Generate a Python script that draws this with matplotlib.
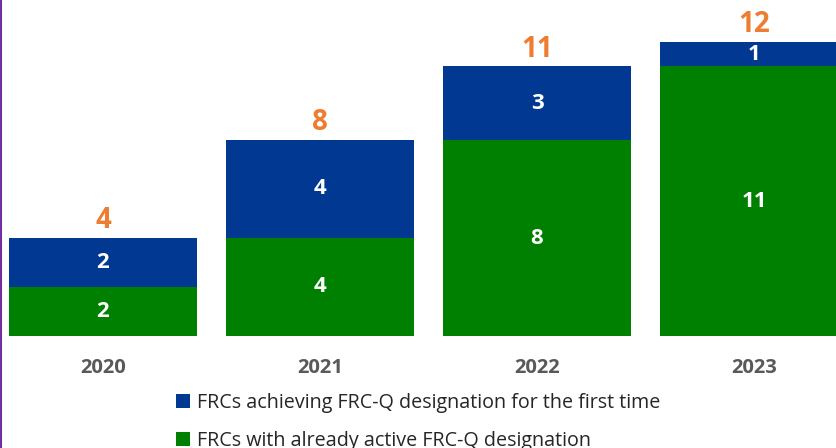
import matplotlib
matplotlib.use("Agg")
import matplotlib.pyplot as plt
from matplotlib.lines import Line2D

years = ["2020", "2021", "2022", "2023"]
already_active = [2, 4, 8, 11]
first_time = [2, 4, 3, 1]
totals = [a + f for a, f in zip(already_active, first_time)]

GREEN = "#008000"
BLUE = "#003892"
ORANGE = "#ED7D31"
GRAY = "#595959"
FONT = ["Open Sans", "DejaVu Sans"]

plt.rcParams["font.family"] = FONT

fig = plt.figure(figsize=(8.37, 4.48), dpi=100)
ax = fig.add_axes([0, 0, 1, 1])
ax.axis("off")

x = range(len(years))
width = 0.866
g = ax.bar(x, already_active, width, color=GREEN, label="FRCs with already active FRC-Q designation")
b = ax.bar(x, first_time, width, bottom=already_active, color=BLUE,
           label="FRCs achieving FRC-Q designation for the first time")

for i in x:
    ax.text(i, already_active[i] / 2, str(already_active[i]), ha="center", va="center",
            color="white", fontsize=16, weight="bold")
    ax.text(i, already_active[i] + first_time[i] / 2, str(first_time[i]), ha="center",
            va="center", color="white", fontsize=16, weight="bold")
    ax.annotate(str(totals[i]), (i, totals[i]), xytext=(0, 7), textcoords="offset points",
                ha="center", va="baseline", color=ORANGE, fontsize=20, weight="bold")
    ax.text(i, -1.51, years[i], ha="center", va="baseline", color=GRAY,
            fontsize=14.5, weight="bold")

ax.set_xlim(-103 / 217, (837 - 103) / 217)
ax.set_ylim(-(448 - 336) / 24.5, 336 / 24.5)

ax.legend(handles=[b, g], loc="upper left", bbox_to_anchor=(176 / 837, 1 - 393 / 448),
          frameon=False, fontsize=14.25, handlelength=0.7, handleheight=0.7,
          handletextpad=0.35, labelspacing=0.9, borderpad=0, borderaxespad=0,
          labelcolor="#262626")

# thin purple frame edge on the left
fig.add_artist(Line2D([0.001, 0.001], [0, 1], color="#7030A0", linewidth=1.5,
                      transform=fig.transFigure))

fig.savefig("out.png", dpi=100)
